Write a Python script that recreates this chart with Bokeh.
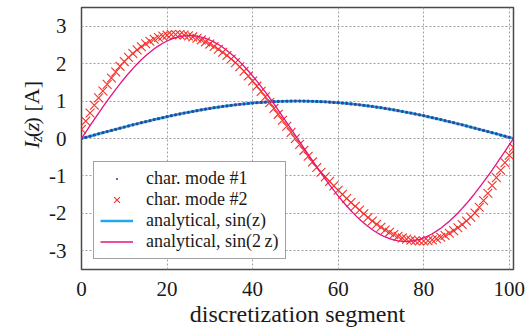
from math import pi
from bokeh.plotting import figure
from bokeh.layouts import row
from bokeh.models import Range1d, FixedTicker, Label, Legend, LegendItem
from bokeh.embed import file_html
from bokeh.resources import INLINE

segments = list(range(102))

mode1 = [0.000, 0.031, 0.062, 0.093, 0.124, 0.155, 0.186, 0.216, 0.246, 0.276,
         0.306, 0.336, 0.365, 0.393, 0.422, 0.450, 0.477, 0.505, 0.531, 0.557,
         0.583, 0.608, 0.632, 0.656, 0.679, 0.701, 0.723, 0.744, 0.765, 0.785,
         0.804, 0.822, 0.839, 0.856, 0.871, 0.886, 0.900, 0.913, 0.925, 0.937,
         0.947, 0.957, 0.965, 0.973, 0.980, 0.985, 0.990, 0.994, 0.997, 0.999,
         1.000, 1.000, 0.999, 0.997, 0.994, 0.990, 0.985, 0.980, 0.973, 0.965,
         0.957, 0.947, 0.937, 0.925, 0.913, 0.900, 0.886, 0.871, 0.856, 0.839,
         0.822, 0.804, 0.785, 0.765, 0.744, 0.723, 0.701, 0.679, 0.656, 0.632,
         0.608, 0.583, 0.557, 0.531, 0.505, 0.477, 0.450, 0.422, 0.393, 0.365,
         0.336, 0.306, 0.276, 0.246, 0.216, 0.186, 0.155, 0.124, 0.093, 0.062,
         0.031, 0.000]

mode2 = [0.247, 0.465, 0.680, 0.890, 1.085, 1.269, 1.446, 1.615, 1.776, 1.928,
         2.055, 2.167, 2.272, 2.368, 2.453, 2.530, 2.597, 2.653, 2.699, 2.735,
         2.761, 2.776, 2.780, 2.775, 2.763, 2.742, 2.714, 2.678, 2.634, 2.583,
         2.523, 2.457, 2.385, 2.303, 2.218, 2.125, 2.027, 1.917, 1.796, 1.670,
         1.536, 1.398, 1.259, 1.112, 0.959, 0.804, 0.646, 0.488, 0.326, 0.163,
         0.000, -0.157, -0.316, -0.473, -0.626, -0.774, -0.900, -1.025, -1.145, -1.266,
         -1.383, -1.493, -1.602, -1.709, -1.811, -1.911, -2.011, -2.110, -2.204, -2.290,
         -2.370, -2.443, -2.507, -2.565, -2.614, -2.656, -2.689, -2.714, -2.731, -2.739,
         -2.739, -2.729, -2.708, -2.679, -2.639, -2.590, -2.530, -2.461, -2.385, -2.298,
         -2.204, -2.101, -1.990, -1.837, -1.655, -1.463, -1.257, -1.046, -0.847, -0.645,
         -0.447, -0.243]

analytic_sin_z = [0.000, 0.031, 0.062, 0.093, 0.124, 0.155, 0.186, 0.216, 0.246, 0.276,
                  0.306, 0.336, 0.365, 0.393, 0.422, 0.450, 0.477, 0.505, 0.531, 0.557,
                  0.583, 0.608, 0.632, 0.656, 0.679, 0.701, 0.723, 0.744, 0.765, 0.785,
                  0.804, 0.822, 0.839, 0.856, 0.871, 0.886, 0.900, 0.913, 0.925, 0.937,
                  0.947, 0.957, 0.965, 0.973, 0.980, 0.985, 0.990, 0.994, 0.997, 0.999,
                  1.000, 1.000, 0.999, 0.997, 0.994, 0.990, 0.985, 0.980, 0.973, 0.965,
                  0.957, 0.947, 0.937, 0.925, 0.913, 0.900, 0.886, 0.871, 0.856, 0.839,
                  0.822, 0.804, 0.785, 0.765, 0.744, 0.723, 0.701, 0.679, 0.656, 0.632,
                  0.608, 0.583, 0.557, 0.531, 0.505, 0.477, 0.450, 0.422, 0.393, 0.365,
                  0.336, 0.306, 0.276, 0.246, 0.216, 0.186, 0.155, 0.124, 0.093, 0.062,
                  0.031, 0.000]

analytic_sin_2z = [0.000, 0.171, 0.341, 0.510, 0.677, 0.842, 1.003, 1.160, 1.313, 1.461,
                   1.603, 1.738, 1.867, 1.989, 2.102, 2.210, 2.307, 2.396, 2.475, 2.545,
                   2.605, 2.654, 2.694, 2.723, 2.742, 2.750, 2.747, 2.734, 2.710, 2.675,
                   2.631, 2.576, 2.511, 2.437, 2.353, 2.260, 2.158, 2.047, 1.929, 1.804,
                   1.671, 1.532, 1.387, 1.237, 1.082, 0.923, 0.760, 0.594, 0.426, 0.256,
                   0.086, -0.086, -0.256, -0.426, -0.594, -0.760, -0.923, -1.082, -1.237, -1.387,
                   -1.532, -1.671, -1.804, -1.929, -2.047, -2.158, -2.260, -2.353, -2.437, -2.511,
                   -2.576, -2.631, -2.675, -2.710, -2.734, -2.747, -2.750, -2.742, -2.723, -2.694,
                   -2.654, -2.605, -2.545, -2.475, -2.396, -2.307, -2.210, -2.102, -1.989, -1.867,
                   -1.738, -1.603, -1.461, -1.313, -1.160, -1.003, -0.842, -0.677, -0.510, -0.341,
                   -0.171, 0.000]

x_ticks = [0, 20, 40, 60, 80, 100]
y_ticks = [-3, -2, -1, 0, 1, 2, 3]
legend_labels = ["char. mode #1", "char. mode #2", "analytical, sin(z)", "analytical, sin(2\u2009z)"]
x_label = "discretization segment"

SERIF = "Liberation Serif"
INK = "#1a1a1a"

# ---- narrow left panel carrying the y-axis label I_z(z) [A]
lp = figure(width=44, height=329, output_backend="svg", toolbar_location=None,
            x_range=Range1d(0, 44), y_range=Range1d(329, 0),
            x_axis_type=None, y_axis_type=None, min_border=0,
            outline_line_color=None, background_fill_color="white",
            border_fill_color="white")
ylab = [("I", 31, 177, "22px", "italic"),
        ("z", 35.5, 169.3, "16px", "italic"),
        ("(", 31, 162.8, "22px", "normal"),
        ("z", 31, 155.5, "22px", "italic"),
        (") [A]", 31, 146.8, "22px", "normal")]
for txt, xx, yy, fs, st in ylab:
    lp.add_layout(Label(x=xx, y=yy, text=txt, angle=pi / 2, text_font=SERIF,
                        text_font_size=fs, text_font_style=st, text_color=INK,
                        text_align="left", text_baseline="alphabetic"))

# ---- main plot
p = figure(width=482, height=329, output_backend="svg", toolbar_location=None,
           x_range=Range1d(0, 101), y_range=Range1d(-3.5, 3.5),
           min_border_left=37, min_border_right=13, min_border_top=7, min_border_bottom=60,
           background_fill_color="white", border_fill_color="white")

p.outline_line_color = "#4a4a4a"
p.outline_line_width = 1.5

for ax, ticks in ((p.xaxis, x_ticks), (p.yaxis, y_ticks)):
    ax.ticker = FixedTicker(ticks=ticks)
    ax.major_label_overrides = {t: str(t) for t in ticks}
    ax.major_label_text_font = SERIF
    ax.major_label_text_font_size = "21px"
    ax.major_label_text_color = INK
    ax.major_tick_line_color = None
    ax.minor_tick_line_color = None
    ax.axis_line_color = None
p.xaxis.major_label_standoff = 6
p.yaxis.major_label_standoff = 9
p.xaxis.axis_label = x_label
p.xaxis.axis_label_text_font = SERIF
p.xaxis.axis_label_text_font_size = "24px"
p.xaxis.axis_label_text_font_style = "normal"
p.xaxis.axis_label_text_color = INK
p.xaxis.axis_label_standoff = 2

for g in (p.xgrid, p.ygrid):
    g.grid_line_color = "#a0a0a0"
    g.grid_line_dash = "2 2"
    g.grid_line_width = 1

r_sinz = p.line(segments, analytic_sin_z, line_color="#22a8ea", line_width=2.6)
r_m1 = p.scatter(segments, mode1, marker="dot", size=13, line_color="#2f4a98",
                 fill_color="#2f4a98")
r_m2 = p.scatter(segments, mode2, marker="x", size=12.5,
                 line_color="#f5302a", line_width=1.1)
r_sin2z = p.line(segments, analytic_sin_2z, line_color="#e6117f", line_width=1.3)

legend = Legend(items=[LegendItem(label=legend_labels[0], renderers=[r_m1]),
                       LegendItem(label=legend_labels[1], renderers=[r_m2]),
                       LegendItem(label=legend_labels[2], renderers=[r_sinz]),
                       LegendItem(label=legend_labels[3], renderers=[r_sin2z])],
                location=(12, 10), label_text_font=SERIF, label_text_font_size="18px",
                label_text_color=INK,
                glyph_width=33, glyph_height=21, label_height=21, label_standoff=13,
                padding=6, spacing=0, margin=0,
                border_line_color="#444444", border_line_width=1.2,
                background_fill_color="white", background_fill_alpha=1.0)
p.add_layout(legend)

open("out.html", "w").write(file_html(row(lp, p), INLINE))
